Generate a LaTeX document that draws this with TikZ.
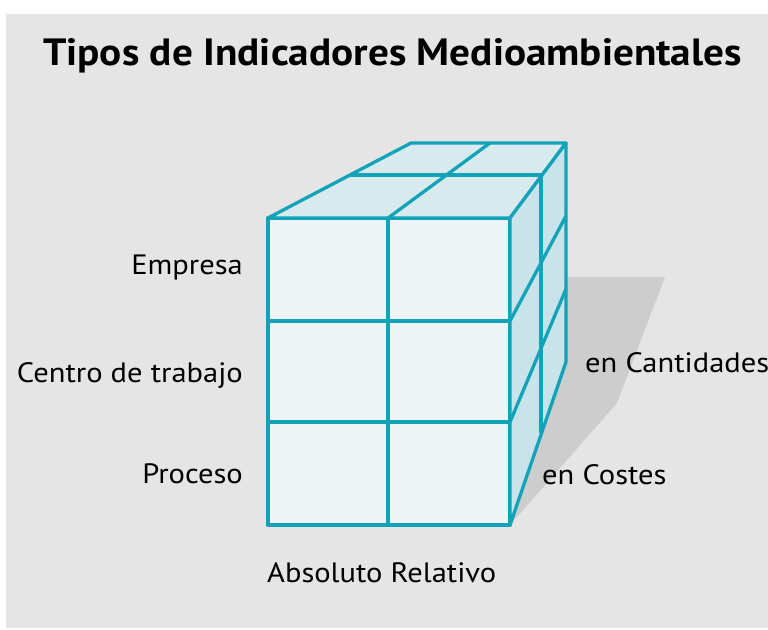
\documentclass[tikz,border=0pt]{standalone}
\usepackage{fontspec}
\setmainfont{PT Sans}
\newfontfamily\labelfont[FakeStretch=1.09]{PT Sans}
\newfontfamily\titlefont[FakeStretch=1.085]{PT Sans}
\definecolor{cubeline}{HTML}{12A3B9}
\definecolor{frontfill}{HTML}{EDF5F7}
\definecolor{topfill}{HTML}{D9EAEF}
\definecolor{sidefill}{HTML}{C8E3EA}
\definecolor{bggray}{HTML}{E5E5E5}
\definecolor{shadowgray}{HTML}{CDCDCD}
\tikzset{
	edge/.style={draw=cubeline,line width=3.3pt,line join=round},
	axislabel/.style={font=\labelfont\fontsize{28}{32}\selectfont,inner sep=0pt},
}
\begin{document}
\begin{tikzpicture}[x=1pt,y=-1pt]
	\useasboundingbox (0,0) rectangle (768,629);
	\fill[bggray] (6,14) rectangle (768,628);
	\node[font=\titlefont\bfseries\fontsize{38}{44}\selectfont,inner sep=0pt,anchor=base west] (title) at (43,65) {Tipos de Indicadores Medioambientales};
	\fill[shadowgray] (510,525) -- (566,362) -- (566,277) -- (665,277) -- (617,403) -- cycle;
	\begin{scope}[edge]
	\filldraw[fill=frontfill] (268,218) rectangle (510,525);
	\filldraw[fill=topfill] (268,218) -- (411,143) -- (566,143) -- (510,218) -- cycle;
	\filldraw[fill=sidefill] (510,218) -- (566,143) -- (566,362) -- (510,525) -- cycle;
	\draw (388,218) -- (388,525);
	\draw (268,321) -- (510,321);
	\draw (268,422) -- (510,422);
	\draw (388,218) -- (490,143);
	\draw (350,175) -- (541,175);
	\draw (541,175) -- (541,433);
	\draw (510,321) -- (566,216);
	\draw (510,422) -- (566,289);
	\end{scope}
	\node[axislabel,anchor=base east] (empresa) at (243,274) {Empresa};
	\node[axislabel,anchor=base east] (centro) at (243,382) {Centro de trabajo};
	\node[axislabel,anchor=base east] (proceso) at (243,483) {Proceso};
	\node[axislabel,anchor=base west] (cantidades) at (585,372) {en Cantidades};
	\node[axislabel,anchor=base west] (costes) at (542,484) {en Costes};
	\node[axislabel,anchor=base west] (absoluto) at (267,582) {Absoluto Relativo};
\end{tikzpicture}
\end{document}
